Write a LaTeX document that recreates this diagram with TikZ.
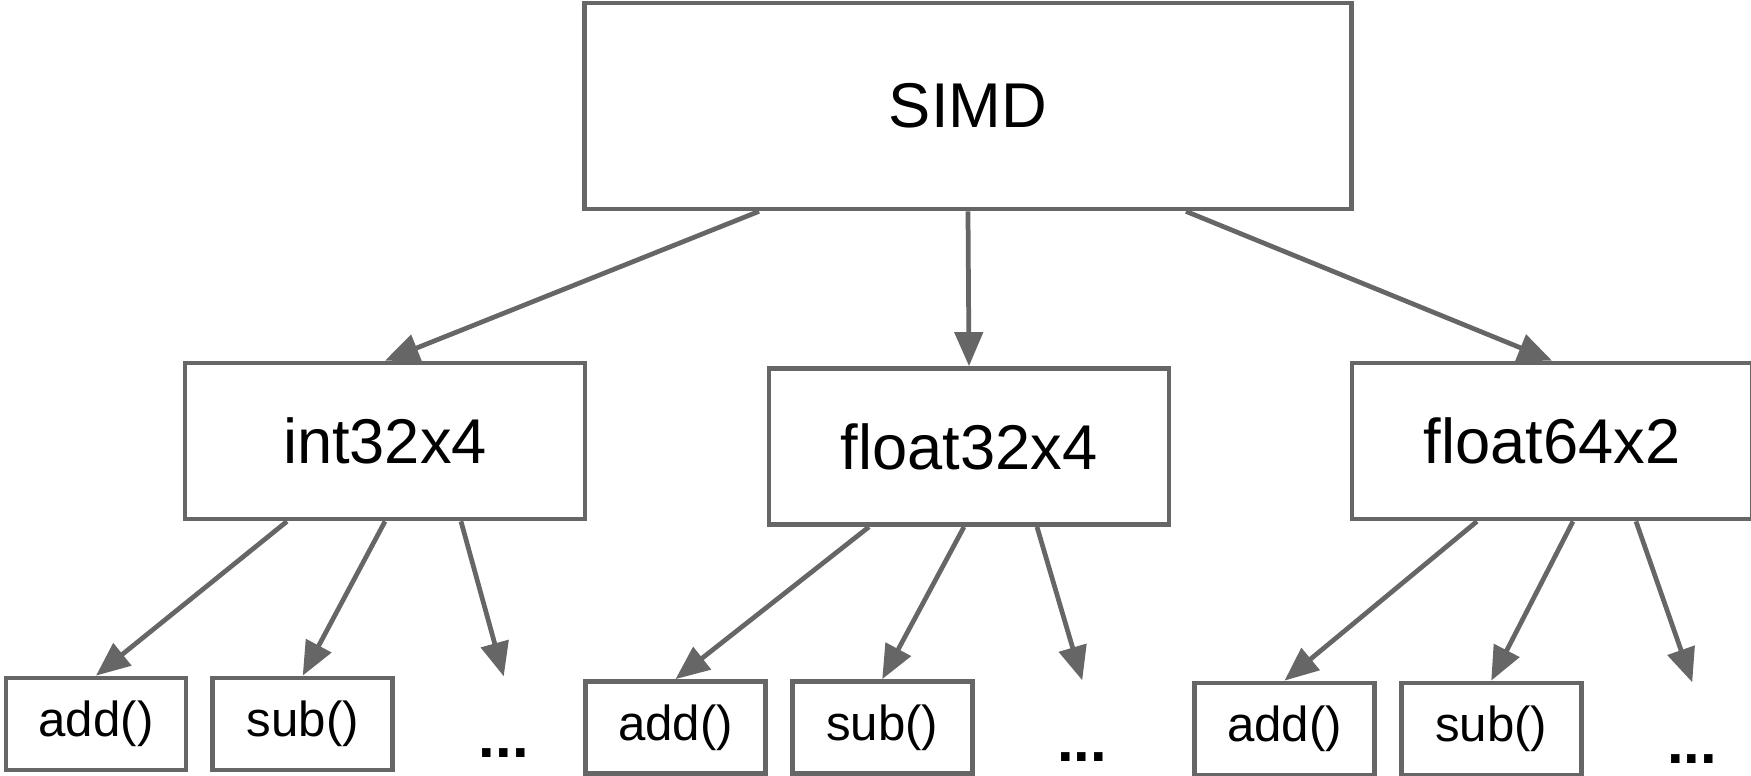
\documentclass[tikz,border=0pt]{standalone}
\usepackage{fontspec}
\setmainfont{Liberation Sans}
\usepackage{tikz}
\usetikzlibrary{positioning, calc, arrows.meta}
\definecolor{edgegray}{HTML}{666666}
\tikzset{typebox/.style={draw=edgegray, line width=1.35pt, minimum width=4cm, minimum height=1.56cm, inner sep=0pt, font=\fontsize{18}{20}\selectfont},
    leafbox/.style={draw=edgegray, line width=1.35pt, minimum width=1.8cm, minimum height=0.92cm, inner sep=0pt, font=\fontsize{14}{16}\selectfont},
    leafdots/.style={inner sep=0pt, text height=8mm, text depth=0pt, anchor=base, font=\fontsize{17}{20}\selectfont\bfseries},
    arr/.style={draw=edgegray, line width=1.35pt, -{Triangle[length=3.4mm, width=2.8mm]}}}

\begin{document}
\begin{tikzpicture}
                 \clip(0,0) rectangle (17.51,-7.76);

                 \node[typebox, minimum width=7.67cm, minimum height=2.06cm] (simd) at (9.68,-1.06) {SIMD};
                 \node[typebox] (ityp) at (3.85,-4.41) {int32x4};
                 \node[typebox] (ftyp) at (9.69,-4.465) {float32x4};
                 \node[typebox] (dtyp) at (15.52,-4.41) {float64x2};

                 \draw[arr]($(simd.south)+(-2.09,0)$)--(ityp.north);
                 \draw[arr](simd.south)--(ftyp.north);
                 \draw[arr]($(simd.south)+(2.18,0)$)--(dtyp.north);

                 \node[leafbox] (iadd) at (0.96,-7.24) {add()};
                 \node[leafbox, right=0.22cm of iadd] (isub) {sub()};
                 \node[leafdots] (idots) at ($(isub)+(2.01,-0.33)$) {...};

                 \node[leafbox] (fadd) at (6.755,-7.275) {add()};
                 \node[leafbox, right=0.22cm of fadd] (fsub) {sub()};
                 \node[leafdots] (fdots) at ($(fsub)+(2.0,-0.335)$) {...};

                 \node[leafbox] (dadd) at (12.845,-7.29) {add()};
                 \node[leafbox, right=0.22cm of dadd] (dsub) {sub()};
                 \node[leafdots] (ddots) at ($(dsub)+(2.01,-0.34)$) {...};

                 \draw[arr]($(ityp.south)+(-0.98,0)$)--(iadd.north);
                 \draw[arr](ityp.south)--(isub.north);
                 \draw[arr]($(ityp.south)+(0.76,0)$)--(idots.north);

                 \draw[arr]($(ftyp.south)+(-1.0,0)$)--(fadd.north);
                 \draw[arr]($(ftyp.south)+(-0.05,0)$)--(fsub.north);
                 \draw[arr]($(ftyp.south)+(0.68,0)$)--(fdots.north);

                 \draw[arr]($(dtyp.south)+(-0.75,0)$)--(dadd.north);
                 \draw[arr]($(dtyp.south)+(0.21,0)$)--(dsub.north);
                 \draw[arr]($(dtyp.south)+(0.84,0)$)--(ddots.north);
             \end{tikzpicture}
\end{document}
